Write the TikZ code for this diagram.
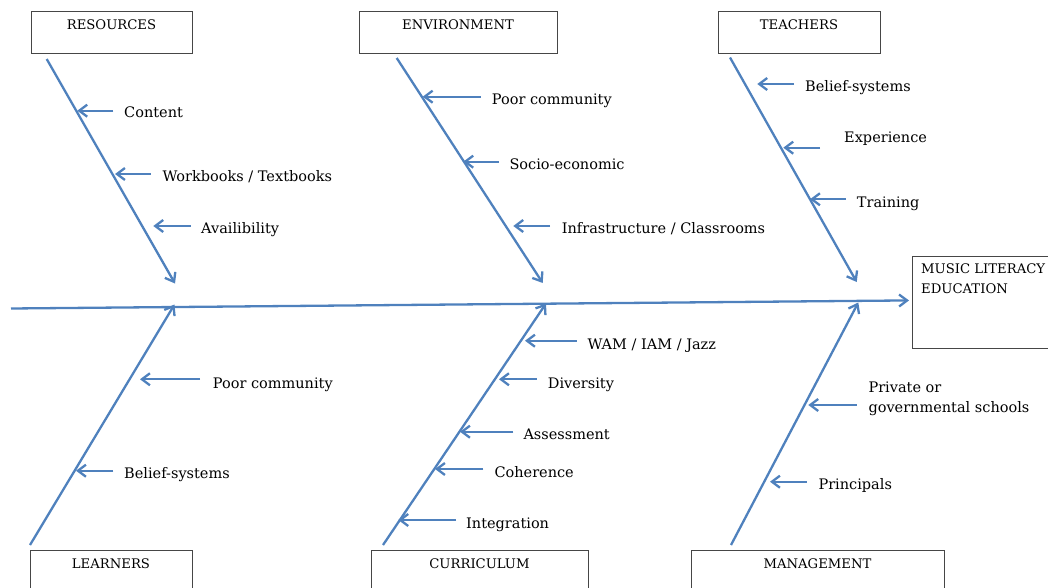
\documentclass[tikz,border=0pt]{standalone}
\usepackage{fontspec}
\setmainfont{DejaVu Serif}
\usetikzlibrary{arrows.meta}
\definecolor{fb}{RGB}{79,129,189}
\definecolor{boxline}{RGB}{70,70,70}
\begin{document}
\begin{tikzpicture}[x=1pt,y=-1pt,
  bone/.style={draw=fb, line width=2.3pt, -{Straight Barb[length=8pt,width=12pt]}},
  sub/.style={bone},
  box/.style={draw=boxline, line width=0.8pt, anchor=north west, inner sep=0},
  boxlbl/.style={font=\fontsize{13.2}{19.5}\selectfont, anchor=base, inner sep=0},
  lbl/.style={font=\fontsize{14.5}{20}\selectfont, anchor=base west, inner sep=0, align=left}]
\useasboundingbox (0,0) rectangle (1048,588);

% ---- category boxes ----
\node[box, minimum width=161pt, minimum height=42pt] (resbox) at (31,11) {};
\node[boxlbl] (restxt) at (111.5,30) {RESOURCES};
\node[box, minimum width=198pt, minimum height=42pt] (envbox) at (359,11) {};
\node[boxlbl] (envtxt) at (458,30) {ENVIRONMENT};
\node[box, minimum width=162pt, minimum height=42pt] (teabox) at (718,11) {};
\node[boxlbl] (teatxt) at (799,30) {TEACHERS};

\node[box, minimum width=162pt, minimum height=60pt] (leabox) at (30,550) {};
\node[boxlbl] (leatxt) at (111,568) {LEARNERS};
\node[box, minimum width=217pt, minimum height=60pt] (curbox) at (371,550) {};
\node[boxlbl] (curtxt) at (479.5,568) {CURRICULUM};
\node[box, minimum width=253pt, minimum height=60pt] (mgtbox) at (691,550) {};
\node[boxlbl] (mgttxt) at (817.5,568) {MANAGEMENT};

\node[box, minimum width=160pt, minimum height=92pt] (mlebox) at (912,256) {};
\node[boxlbl, anchor=base west, align=left] (mletxt) at (921,293.3) {MUSIC LITERACY\\EDUCATION};

% ---- spine ----
\coordinate (sp0) at (11,308.5);
\draw[bone, shorten >=3pt] (sp0) -- ([yshift=2pt]mlebox.west);

% ---- top bones ----
\coordinate (rs) at (46.7,59);  \coordinate (re) at (175,283.5);
\coordinate (es) at (396.7,58); \coordinate (ee) at (542.7,283);
\coordinate (ts) at (730,57.5); \coordinate (te) at (856.7,282);
\draw[bone] (rs) -- (re);
\draw[bone] (es) -- (ee);
\draw[bone] (ts) -- (te);

% ---- bottom bones ----
\coordinate (ls) at (30,545);   \coordinate (le) at (174.5,304.5);
\coordinate (cs) at (383,545);  \coordinate (ce) at (546,303.5);
\coordinate (ms) at (731,545);  \coordinate (me) at (858.3,302.5);
\draw[bone] (ls) -- (le);
\draw[bone] (cs) -- (ce);
\draw[bone] (ms) -- (me);

% ---- RESOURCES causes ----
\node[lbl] (r1) at (124,117.7) {Content};
\coordinate (r1t) at (113.3,110.7); \coordinate (r1h) at (77.3,110.7);
\draw[sub] (r1t) -- (r1h);
\node[lbl] (r2) at (162.3,181.7) {Workbooks / Textbooks};
\coordinate (r2t) at (150.7,174); \coordinate (r2h) at (115,174);
\draw[sub] (r2t) -- (r2h);
\node[lbl] (r3) at (201,233.3) {Availibility};
\coordinate (r3t) at (190.7,226); \coordinate (r3h) at (153.3,226);
\draw[sub] (r3t) -- (r3h);

% ---- ENVIRONMENT causes ----
\node[lbl] (e1) at (491.7,105) {Poor community};
\coordinate (e1t) at (480.7,96.7); \coordinate (e1h) at (422.7,96.7);
\draw[sub] (e1t) -- (e1h);
\node[lbl] (e2) at (509.3,169) {Socio-economic};
\coordinate (e2t) at (499,161.7); \coordinate (e2h) at (463.3,161.7);
\draw[sub] (e2t) -- (e2h);
\node[lbl] (e3) at (561.7,233.3) {Infrastructure / Classrooms};
\coordinate (e3t) at (550,226); \coordinate (e3h) at (513.3,226);
\draw[sub] (e3t) -- (e3h);

% ---- TEACHERS causes ----
\node[lbl] (t1) at (805,91.7) {Belief-systems};
\coordinate (t1t) at (794,84); \coordinate (t1h) at (757.3,84);
\draw[sub] (t1t) -- (t1h);
\node[lbl] (t2) at (844,143) {Experience};
\coordinate (t2t) at (820,147.7); \coordinate (t2h) at (783.3,147.7);
\draw[sub] (t2t) -- (t2h);
\node[lbl] (t3) at (856.7,207.7) {Training};
\coordinate (t3t) at (845.7,199.3); \coordinate (t3h) at (810,199.3);
\draw[sub] (t3t) -- (t3h);

% ---- LEARNERS causes ----
\node[lbl] (l1) at (212.7,388.3) {Poor community};
\coordinate (l1t) at (200,379.3); \coordinate (l1h) at (140,379.3);
\draw[sub] (l1t) -- (l1h);
\node[lbl] (l2) at (124,478.3) {Belief-systems};
\coordinate (l2t) at (113.3,470.7); \coordinate (l2h) at (76,470.7);
\draw[sub] (l2t) -- (l2h);

% ---- CURRICULUM causes ----
\node[lbl] (c1) at (587.3,349.3) {WAM / IAM / Jazz};
\coordinate (c1t) at (576.7,340.7); \coordinate (c1h) at (525,340.7);
\draw[sub] (c1t) -- (c1h);
\node[lbl] (c2) at (547.7,388.3) {Diversity};
\coordinate (c2t) at (536.7,379.3); \coordinate (c2h) at (499,379.3);
\draw[sub] (c2t) -- (c2h);
\node[lbl] (c3) at (523.3,439) {Assessment};
\coordinate (c3t) at (513.3,431.7); \coordinate (c3h) at (460,431.7);
\draw[sub] (c3t) -- (c3h);
\node[lbl] (c4) at (494.3,477.7) {Coherence};
\coordinate (c4t) at (483.3,469); \coordinate (c4h) at (435,469);
\draw[sub] (c4t) -- (c4h);
\node[lbl] (c5) at (466,528.3) {Integration};
\coordinate (c5t) at (456,520); \coordinate (c5h) at (398.3,520);
\draw[sub] (c5t) -- (c5h);

% ---- MANAGEMENT causes ----
\node[lbl] (m1) at (868.3,412.7) {Private or\\governmental schools};
\coordinate (m1t) at (856.7,405); \coordinate (m1h) at (808.3,405);
\draw[sub] (m1t) -- (m1h);
\node[lbl] (m2) at (818.3,489.3) {Principals};
\coordinate (m2t) at (806.7,481.7); \coordinate (m2h) at (770,481.7);
\draw[sub] (m2t) -- (m2h);
\end{tikzpicture}
\end{document}
